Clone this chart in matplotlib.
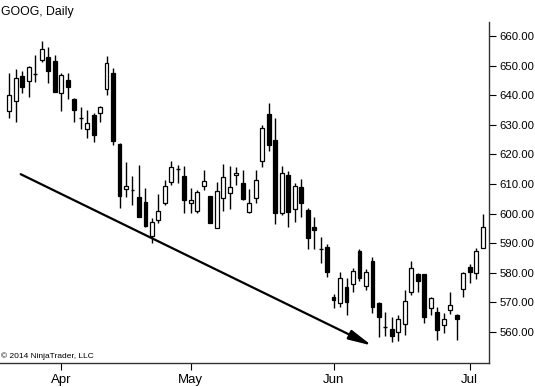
import numpy as np
import matplotlib
matplotlib.use("Agg")
import matplotlib.pyplot as plt

plt.rcParams['font.family'] = ['Liberation Sans', 'DejaVu Sans']

# daily bars (one per trading day, left to right)
opens = [634.7, 638.1, 646.5, 644.9, 647.2, 651.9, 653.0, 651.7, 640.8, 645.1,
         638.6, 632.4, 628.6, 633.3, 634.0, 642.0, 647.4, 623.4, 608.2, 608.1,
         605.7, 604.0, 592.5, 597.8, 603.5, 610.8, 615.1, 612.8, 603.5, 601.0,
         609.4, 606.0, 595.0, 605.4, 606.9, 612.9, 610.2, 600.5, 605.2, 617.9,
         633.6, 624.9, 600.1, 613.0, 601.6, 608.9, 601.2, 595.6, 588.1, 588.6,
         571.9, 569.9, 575.3, 576.2, 587.5, 575.5, 584.0, 569.7, 561.6, 560.9,
         560.1, 562.6, 573.6, 579.5, 579.5, 568.0, 566.9, 562.4, 567.4, 565.7,
         574.5, 581.9, 579.8, 588.3]
highs = [647.5, 648.8, 648.3, 650.0, 653.6, 658.4, 656.4, 653.6, 647.6, 647.6,
         639.0, 636.1, 635.0, 633.9, 636.4, 653.2, 649.1, 623.8, 617.5, 612.7,
         616.4, 608.5, 598.4, 606.6, 611.4, 617.8, 616.4, 616.1, 608.5, 608.0,
         614.7, 606.0, 610.8, 616.8, 616.1, 615.8, 614.7, 608.3, 614.7, 629.9,
         637.5, 632.2, 616.1, 614.4, 610.2, 611.6, 601.8, 599.0, 592.2, 589.7,
         572.7, 580.4, 578.3, 581.5, 588.0, 581.2, 585.2, 570.2, 566.7, 565.2,
         565.7, 574.2, 584.1, 579.8, 579.5, 571.9, 568.3, 566.5, 573.6, 566.1,
         580.4, 583.0, 588.3, 599.9]
lows = [632.3, 630.9, 640.8, 639.5, 644.6, 651.1, 644.2, 641.0, 634.7, 638.8,
        631.0, 628.6, 625.4, 624.3, 631.0, 640.1, 623.2, 601.8, 605.7, 602.9,
        599.0, 595.5, 590.2, 596.9, 602.9, 609.7, 610.4, 600.3, 600.1, 600.3,
        608.0, 596.7, 595.0, 601.0, 601.5, 609.7, 604.5, 600.3, 603.5, 615.6,
        621.2, 596.5, 599.4, 595.6, 597.0, 599.0, 588.0, 588.0, 583.2, 578.7,
        568.0, 568.3, 565.7, 573.6, 577.3, 574.2, 566.3, 558.2, 558.7, 556.7,
        557.0, 559.0, 572.5, 573.6, 563.1, 565.7, 557.3, 559.6, 566.1, 557.3,
        571.9, 576.5, 577.8, 588.3]
closes = [640.1, 645.9, 642.9, 649.4, 647.0, 655.6, 648.3, 641.1, 646.8, 642.7,
          635.0, 632.2, 630.5, 626.6, 635.9, 650.8, 624.5, 606.0, 609.4, 607.9,
          599.0, 595.8, 597.3, 601.0, 609.4, 615.6, 614.9, 604.6, 604.6, 607.2,
          611.0, 596.7, 607.6, 612.5, 608.9, 613.6, 604.8, 603.7, 611.4, 628.8,
          623.2, 600.3, 613.8, 600.6, 609.3, 603.5, 591.7, 594.5, 587.9, 580.4,
          570.8, 578.3, 570.2, 580.7, 578.1, 580.4, 568.3, 565.0, 561.4, 558.7,
          564.4, 570.6, 581.5, 577.3, 565.0, 571.4, 560.5, 564.3, 569.1, 564.3,
          579.8, 580.4, 587.4, 595.6]

# bar index where each month begins
month_start = [8, 28, 50, 71]
month_names = ['Apr', 'May', 'Jun', 'Jul']
price_ticks = [560, 570, 580, 590, 600, 610, 620, 630, 640, 650, 660]

o = np.array(opens)
h = np.array(highs)
l = np.array(lows)
c = np.array(closes)
x = np.arange(len(o))

fig = plt.figure(figsize=(5.35, 3.87), dpi=100)
ax = fig.add_axes([0.0, 0.062, 0.914, 0.881])

w = 0.6
ax.vlines(x, l, h, color='black', linewidth=1.0, zorder=1)
up = c >= o
lo = np.minimum(o, c)
hi = np.maximum(o, c)
doji = (hi - lo) < 0.5
body = ~doji
ax.bar(x[body], (hi - lo)[body], bottom=lo[body], width=w,
       color=np.where(up[body], 'white', 'black'), edgecolor='black',
       linewidth=0.9, zorder=2)
ax.hlines((o + c)[doji] / 2, x[doji] - w / 2, x[doji] + w / 2,
          color='black', linewidth=1.0, zorder=2)

# downtrend arrow
ax.annotate('', xy=(55.9, 555.4), xytext=(1.76, 613.3),
            arrowprops=dict(arrowstyle='-|>,head_length=1.4,head_width=0.3',
                            color='black', lw=1.6, shrinkA=0, shrinkB=0))

ax.set_xlim(-1.43, 73.97)
ax.set_ylim(549.5, 664.7)

ax.yaxis.tick_right()
ax.set_yticks(price_ticks)
ax.set_yticklabels(['%.2f' % p for p in price_ticks])
ax.set_xticks(month_start)
ax.set_xticklabels(month_names)
ax.tick_params(axis='both', direction='out', length=5, width=0.8, colors='black')
ax.tick_params(axis='y', labelsize=8.2, pad=2.5)
ax.tick_params(axis='x', labelsize=9.5, pad=3)

for s in ['top', 'left']:
    ax.spines[s].set_visible(False)
for s in ['right', 'bottom']:
    ax.spines[s].set_linewidth(1.0)
    ax.spines[s].set_color('#333333')

fig.text(0.002, 0.985, 'GOOG, Daily', fontsize=8.8, ha='left', va='top')
ax.text(0.002, 0.008, '\u00a9 2014 NinjaTrader, LLC', fontsize=6,
        transform=ax.transAxes, ha='left', va='bottom')

fig.savefig('out.png', dpi=100)
